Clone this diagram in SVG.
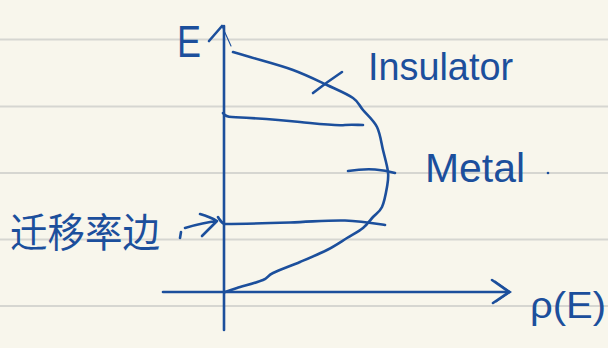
<svg xmlns="http://www.w3.org/2000/svg" width="608" height="348" viewBox="0 0 608 348">
<style>
.rule{stroke:#d6d6d1;stroke-width:2;fill:none}
.ink{stroke:#1c4f9c;stroke-width:2.6;fill:none;stroke-linecap:round;stroke-linejoin:round}
.thin{stroke:#1c4f9c;stroke-width:1.1;fill:none;stroke-linecap:round}
.lbl{fill:#1c4f9c;font-family:"Liberation Sans","DejaVu Sans",sans-serif}
.cjk{fill:#1c4f9c;font-family:"Liberation Sans","Noto Sans CJK SC",sans-serif}
</style>
<rect width="608" height="348" fill="#f8f6ec"/>
<g id="paper">
<line class="rule" x1="0" y1="39.5" x2="608" y2="39.5"/>
<line class="rule" x1="0" y1="106.5" x2="608" y2="106.5"/>
<line class="rule" x1="0" y1="173" x2="608" y2="173"/>
<line class="rule" x1="0" y1="239.5" x2="608" y2="239.5"/>
<line class="rule" x1="0" y1="306" x2="608" y2="306"/>
</g>
<g id="axes">
<path class="ink" d="M224,26 L224,330"/>
<path class="ink" d="M209,41 L222,26"/>
<path class="thin" d="M222,26 L231,46"/>
<path class="ink" d="M163,292 L508,292"/>
<path class="ink" d="M492,280 L509,292 L493,303"/>
<path class="thin" d="M495,281 L511,292 L496,302"/>
</g>
<g id="connectors">
<path id="dos-curve" class="ink" d="M233,52 C235.8,52.8 240,54 250,57 C260,60 280.2,65.3 293,70 C305.8,74.7 317,80.3 327,85 C337,89.7 347,93.8 353,98 C359,102.2 359,105.2 363,110 C367,114.8 373.7,120.3 377,127 C380.3,133.7 381.2,142.5 383,150 C384.8,157.5 387.3,165.8 388,172 C388.7,178.2 388,181.2 387,187 C386,192.8 384.3,202 382,207 C379.7,212 376.2,213.5 373,217 C369.8,220.5 367.3,224.5 363,228 C358.7,231.5 353,234.3 347,238 C341,241.7 334.8,246 327,250 C319.2,254 309,258.2 300,262 C291,265.8 279.2,270 273,273 C266.8,276 269,277.5 263,280 C257,282.5 243.3,286 237,288 C230.7,290 227,291.3 225,292"/>
<path id="level-upper" class="ink" d="M223,113 C225,116 227,117 232,117 C250,118 270,119 300,122 C320,124 335,126 345,125 C352,124.5 358,125 363,125"/>
<path id="level-metal" class="ink" d="M348,171 C358,169.5 368,169 375,169.5 C384,170 390,171.5 395,173"/>
<path id="level-edge" class="ink" d="M218,217 C220,220 221,223 225,224 C240,224 260,223.5 290,222.5 C315,221.5 330,220 345,220.5 C360,221 372,223 385,225"/>
<path id="insulator-leader" class="ink" d="M313,93 C322,86 333,78 342,72"/>
<path id="edge-arrow" class="ink" d="M185,228 C195,225 207,222 217,221 M200,214 C207,216 212,218 217,221 C212,226 207,231 202,236"/>
</g>
<g id="label-E">
<text class="lbl" x="177" y="57" font-size="44" textLength="24" lengthAdjust="spacingAndGlyphs">E</text>
</g>
<g id="label-insulator">
<text class="lbl" x="368" y="80" font-size="38" textLength="145" lengthAdjust="spacingAndGlyphs">Insulator</text>
</g>
<g id="label-metal">
<text class="lbl" x="425" y="182" font-size="40" textLength="100" lengthAdjust="spacingAndGlyphs">Metal</text>
<circle cx="548" cy="173" r="1.3" fill="#1c4f9c"/>
</g>
<g id="label-rho">
<text class="lbl" x="530" y="318" font-size="36" textLength="76" lengthAdjust="spacingAndGlyphs">ρ(E)</text>
</g>
<g id="label-mobility-edge">
<text class="cjk" x="10" y="247" font-size="40" textLength="150" lengthAdjust="spacingAndGlyphs">迁移率边</text>
<path class="ink" d="M181,232 L180,238"/>
</g>
</svg>
